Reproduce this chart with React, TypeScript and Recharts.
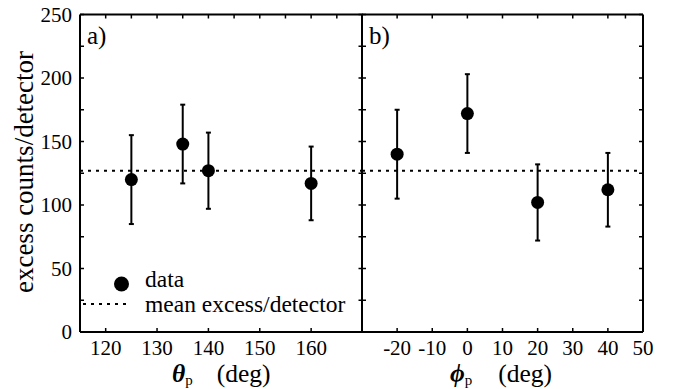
import React from 'react';
import { ScatterChart, Scatter, XAxis, YAxis, ErrorBar, ReferenceLine } from 'recharts';

// ---- data ----
const thetaX = [125, 135, 140, 160];
const thetaY = [120, 148, 127, 117];
const thetaErr = [35, 31, 30, 29];

const phiX = [-20, 0, 20, 40];
const phiY = [140, 172, 102, 112];
const phiErr = [35, 31, 30, 29];

const meanExcess = 127;

const yTicks = [0, 25, 50, 75, 100, 125, 150, 175, 200, 225, 250];
const thetaBottomTicks = [120, 130, 140, 150, 160];
const thetaTopTicks = [120, 125, 130, 135, 140, 145, 150, 155, 160, 165];
const phiBottomTicks = [-20, -10, 0, 10, 20, 30, 40, 50];
const phiTopTicks = [-20, -10, 0, 10, 20, 30, 40, 45];

const thetaData = thetaX.map((x, i) => ({ x, y: thetaY[i], err: thetaErr[i] }));
const phiData = phiX.map((x, i) => ({ x, y: phiY[i], err: phiErr[i] }));

const SERIF = "'Liberation Serif', 'Times New Roman', 'DejaVu Serif', serif";
const AX = { stroke: '#000', strokeWidth: 2 };
const TL = { stroke: '#000', strokeWidth: 1.5 };
const tickStyle = { fill: '#000', fontSize: 21, fontFamily: SERIF };
const blank = () => '';

const Dot = (props: any) => <circle cx={props.cx} cy={props.cy} r={6.5} fill="#000" />;

const H = 389;

export default function App() {
  return (
    <div style={{ position: 'absolute', left: 0, top: 0, width: 693, height: H, background: '#fff' }}>
      <div style={{ position: 'absolute', left: 0, top: 0 }}>
        <ScatterChart width={363} height={H} margin={{ top: 14.5, right: 0.5, bottom: 0, left: 0 }}>
          <XAxis xAxisId="b" dataKey="x" type="number" domain={[115, 170]} allowDataOverflow
            ticks={thetaBottomTicks} interval={0} tickSize={-4} tickMargin={12.5} height={57}
            axisLine={AX} tickLine={TL} tick={tickStyle} />
          <XAxis xAxisId="t" orientation="top" mirror dataKey="x" type="number" domain={[115, 170]} allowDataOverflow
            ticks={thetaTopTicks} interval={0} tickSize={4} tickFormatter={blank}
            axisLine={AX} tickLine={TL} />
          <YAxis yAxisId="l" dataKey="y" type="number" domain={[0, 250]} allowDataOverflow
            ticks={yTicks} interval={0} width={80} tickSize={-4} tickMargin={12}
            tickFormatter={(v: number) => (v % 50 === 0 ? String(v) : '')}
            axisLine={AX} tickLine={TL} tick={tickStyle} />
          <YAxis yAxisId="r" orientation="right" mirror dataKey="y" type="number" domain={[0, 250]} allowDataOverflow
            ticks={yTicks} interval={0} tickSize={4} tickFormatter={blank}
            axisLine={AX} tickLine={TL} />
          <ReferenceLine xAxisId="b" yAxisId="l" y={meanExcess} stroke="#000" strokeWidth={2} strokeDasharray="3 5" />
          <Scatter xAxisId="b" yAxisId="l" data={thetaData} shape={Dot} isAnimationActive={false}>
            <ErrorBar dataKey="err" direction="y" width={2.5} stroke="#000" strokeWidth={2} isAnimationActive={false} />
          </Scatter>
        </ScatterChart>
      </div>
      <div style={{ position: 'absolute', left: 340, top: 0 }}>
        <ScatterChart width={353} height={H} margin={{ top: 14.5, right: 50, bottom: 0, left: 22 }}>
          <XAxis xAxisId="b" dataKey="x" type="number" domain={[-30, 50]} allowDataOverflow
            ticks={phiBottomTicks} interval={0} tickSize={-4} tickMargin={12.5} height={57}
            axisLine={AX} tickLine={TL} tick={tickStyle} />
          <XAxis xAxisId="t" orientation="top" mirror dataKey="x" type="number" domain={[-30, 50]} allowDataOverflow
            ticks={phiTopTicks} interval={0} tickSize={4} tickFormatter={blank}
            axisLine={AX} tickLine={TL} />
          <YAxis yAxisId="l" mirror dataKey="y" type="number" domain={[0, 250]} allowDataOverflow
            ticks={yTicks} interval={0} tickSize={4} tickFormatter={blank}
            axisLine={AX} tickLine={TL} />
          <YAxis yAxisId="r" orientation="right" mirror dataKey="y" type="number" domain={[0, 250]} allowDataOverflow
            ticks={yTicks} interval={0} tickSize={4} tickFormatter={blank}
            axisLine={AX} tickLine={TL} />
          <ReferenceLine xAxisId="b" yAxisId="l" y={meanExcess} stroke="#000" strokeWidth={2} strokeDasharray="3 5" />
          <Scatter xAxisId="b" yAxisId="l" data={phiData} shape={Dot} isAnimationActive={false}>
            <ErrorBar dataKey="err" direction="y" width={2.5} stroke="#000" strokeWidth={2} isAnimationActive={false} />
          </Scatter>
        </ScatterChart>
      </div>
      <svg width={693} height={H} style={{ position: 'absolute', left: 0, top: 0, pointerEvents: 'none' }}
        fontFamily={SERIF} fill="#000">
        <text transform="translate(33,172) rotate(-90)" textAnchor="middle" fontSize={27}>excess counts/detector</text>
        <text x={87} y={44} fontSize={25}>a)</text>
        <text x={369} y={44} fontSize={25}>b)</text>
        <text x={172} y={381.5} fontSize={25.5}>
          <tspan fontStyle="italic" fontWeight="bold">θ</tspan>
          <tspan fontSize={15} dy={3}>p</tspan>
          <tspan dx={24} dy={-3}>(deg)</tspan>
        </text>
        <text x={450} y={381.5} fontSize={25.5}>
          <tspan fontStyle="italic" fontWeight="bold">ϕ</tspan>
          <tspan fontSize={15} dy={3}>p</tspan>
          <tspan dx={26} dy={-3}>(deg)</tspan>
        </text>
        <circle cx={121.5} cy={284} r={7.5} fill="#000" />
        <text x={145} y={286.5} fontSize={23.5}>data</text>
        <line x1={83} y1={304} x2={128} y2={304} stroke="#000" strokeWidth={2} strokeDasharray="3 5" />
        <text x={145} y={311.5} fontSize={23.5}>mean excess/detector</text>
      </svg>
    </div>
  );
}
